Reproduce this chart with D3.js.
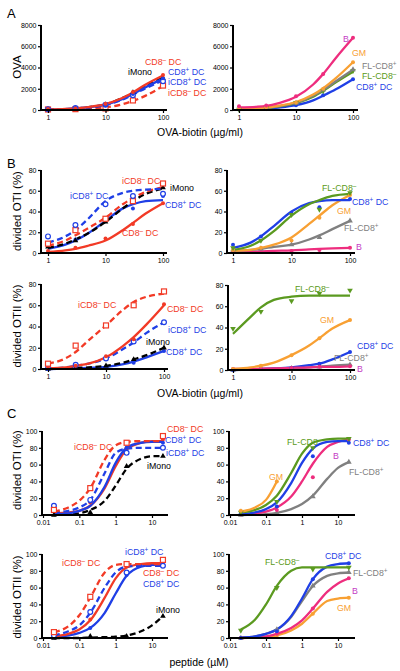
<!DOCTYPE html>
<html><head><meta charset="utf-8">
<script src="https://cdn.jsdelivr.net/npm/d3@7"></script>
<style>body{margin:0;background:#fff} svg{display:block} text{font-family:"Liberation Sans", Arial, Helvetica, sans-serif}</style>
</head><body><svg id="c" width="400" height="671"></svg>
<script>
// ---------- DATA ----------
const ovaDose = [1, 3, 10, 30, 100];
const ovaFitX = [1, 2, 3, 5, 10, 20, 30, 50, 100];
const pepDose = [0.02, 0.2, 2, 20];
const pepFitX = [0.02, 0.05, 0.1, 0.2, 0.5, 1, 2, 5, 10, 20];
const gmPepFitX = [0.02, 0.05, 0.1, 0.2];
const gmPepDose = [0.02, 0.2];

const ovaTicks = [0, 2000, 4000, 6000, 8000];
const pctTicks80 = [0, 20, 40, 60, 80];
const pctTicks100 = [0, 20, 40, 60, 80, 100];
const ovaXTicks = [1, 10, 100];
const pepXTicks = [0.01, 0.1, 1, 10];

// Panel A left (OVA)
const aL_CD8neg_fit = [50, 100, 150, 280, 550, 1150, 1650, 2400, 3250];
const aL_CD8neg_pts = [100, 150, 600, 1700, 3300];
const aL_CD8pos_fit = [40, 90, 140, 260, 500, 1050, 1500, 2150, 2950];
const aL_CD8pos_pts = [80, 200, 450, 1500, 3000];
const aL_iCD8pos_fit = [30, 80, 130, 240, 480, 1000, 1450, 2050, 2800];
const aL_iCD8pos_pts = [60, 180, 500, 1400, 2700];
const aL_iMono_fit = [20, 70, 130, 260, 540, 1150, 1600, 2250, 3050];
const aL_iMono_pts = [50, 120, 500, 1650, 3000];
const aL_iCD8neg_fit = [20, 50, 80, 130, 250, 550, 850, 1350, 2250];
const aL_iCD8neg_pts = [50, 80, 150, 900, 2300];

// Panel A right
const aR_B_fit = [250, 300, 380, 650, 1250, 2400, 3400, 4900, 6800];
const aR_B_pts = [350, 420, 1300, 3400, 6800];
const aR_GM_fit = [80, 150, 230, 400, 750, 1450, 2050, 3000, 4500];
const aR_GM_pts = [100, 250, 700, 2000, 4500];
const aR_FLpos_fit = [60, 130, 200, 360, 700, 1350, 1900, 2700, 3800];
const aR_FLpos_pts = [80, 200, 650, 1900, 3800];
const aR_FLneg_fit = [50, 110, 180, 340, 650, 1250, 1800, 2600, 3600];
const aR_FLneg_pts = [60, 180, 700, 1800, 3700];
const aR_CD8pos_fit = [30, 80, 130, 230, 450, 900, 1350, 1950, 2900];
const aR_CD8pos_pts = [40, 150, 450, 1400, 2900];

// Panel B top left (OTI, OVA-biotin)
const bTL_iCD8pos_fit = [10, 16, 22, 33, 50, 58, 60, 61, 62];
const bTL_iCD8pos_pts = [16, 27, 47, 55, 57];
const bTL_iCD8neg_fit = [7, 12, 17, 24, 34, 47, 53, 59, 63];
const bTL_iCD8neg_pts = [9, 22, 33, 50, 67];
const bTL_iMono_fit = [5, 9, 13, 19, 30, 43, 50, 57, 62];
const bTL_iMono_pts = [6, 12, 30, 50, 63];
const bTL_CD8neg_fit = [1, 2.5, 4, 7, 12, 22, 29, 38, 48];
const bTL_CD8neg_pts = [2, 5, 14, 28, 48];
const bTL_CD8pos_fit = [4, 8, 12, 19, 31, 43, 47, 50, 51];
const bTL_CD8pos_pts = [7, 13, 31, 43, 55];

// Panel B top right
const bTR_FLneg_fit = [3, 7, 12, 21, 36, 47, 51, 55, 57];
const bTR_FLneg_pts = [5, 12, 37, 42, 58];
const bTR_CD8pos_fit = [5, 10, 16, 26, 40, 48, 50, 51, 51];
const bTR_CD8pos_pts = [8, 16, 38, 44, 52];
const bTR_GM_fit = [2, 3, 5, 8, 15, 28, 36, 46, 56];
const bTR_GM_pts = [3, 5, 12, 34, 56];
const bTR_FLpos_fit = [2, 3, 4, 6, 8, 13, 17, 23, 31];
const bTR_FLpos_pts = [3, 4, 8, 15, 31];
const bTR_B_fit = [1, 1.2, 1.5, 2, 2.5, 3.5, 4, 4.5, 5];
const bTR_B_pts = [1, 1, 2, 3, 5];

// Panel B bottom left (OTII, OVA-biotin)
const bBL_iCD8neg_fit = [5, 10, 16, 27, 41, 56, 63, 68, 71];
const bBL_iCD8neg_pts = [5, 22, 41, 60, 73];
const bBL_CD8neg_fit = [0.5, 1.5, 3, 5, 11, 22, 30, 42, 60];
const bBL_CD8neg_pts = [1, 3, 12, 28, 61];
const bBL_iCD8pos_fit = [0.5, 1.5, 3, 5, 10, 19, 25, 34, 44];
const bBL_iCD8pos_pts = [1, 4, 10, 26, 44];
const bBL_iMono_fit = [0, 0.5, 1, 1.5, 3, 6, 9, 13, 20];
const bBL_iMono_pts = [0, 1, 3, 9, 20];
const bBL_CD8pos_fit = [0, 0.3, 0.5, 1, 2, 4.5, 7, 11, 17];
const bBL_CD8pos_pts = [0, 1, 2, 6, 17];

// Panel B bottom right
const bBR_FLneg_fit = [34, 50, 59, 66, 69, 70, 70, 70, 70];
const bBR_FLneg_pts = [39, 55, 65, 72, 75];
const bBR_GM_fit = [1, 2.5, 4, 7, 14, 23, 30, 39, 47];
const bBR_GM_pts = [1, 4, 14, 30, 47];
const bBR_CD8pos_fit = [0, 0.5, 1, 1.5, 2.5, 4.5, 6, 10, 17];
const bBR_CD8pos_pts = [0, 1, 2, 6, 17];
const bBR_FLpos_fit = [0, 0.3, 0.5, 1, 1.5, 2.5, 3, 4, 5];
const bBR_FLpos_pts = [0, 0.5, 1.5, 3, 5];
const bBR_B_fit = [1, 1, 1.2, 1.5, 2, 2.5, 3, 3, 3.5];
const bBR_B_pts = [1, 1, 2, 3, 3.5];

// Panel C top left (OTI, peptide)
const cTL_iMono_fit = [0, 1, 2, 6, 17, 35, 55, 67, 70, 70];
const cTL_iMono_pts = [0, 3, 58, 70];
const cTL_CD8neg_fit = [2, 3, 5, 11, 32, 58, 78, 86, 88, 88];
const cTL_CD8neg_pts = [10, 15, 80, 90];
const cTL_CD8pos_fit = [1, 2, 5, 11, 34, 62, 80, 86, 87, 87];
const cTL_CD8pos_pts = [12, 16, 80, 86];
const cTL_iCD8pos_fit = [3, 5, 9, 18, 50, 74, 79, 80, 80, 80];
const cTL_iCD8pos_pts = [11, 18, 74, 80];
const cTL_iCD8neg_fit = [4, 9, 17, 32, 66, 83, 87, 88, 88, 88];
const cTL_iCD8neg_pts = [6, 32, 86, 94];

// Panel C top right
const cTR_FLpos_fit = [0, 0.5, 1, 2.5, 7, 13, 23, 43, 56, 63];
const cTR_FLpos_pts = [0, 2, 22, 63];
const cTR_B_fit = [1, 2, 4, 9, 22, 40, 61, 81, 87, 90];
const cTR_B_pts = [1, 6, 45, 90];
const cTR_CD8pos_fit = [1, 3, 7, 15, 38, 62, 79, 87, 88, 88];
const cTR_CD8pos_pts = [2, 10, 70, 86];
const cTR_FLneg_fit = [3, 6, 12, 23, 50, 73, 86, 90, 91, 91];
const cTR_FLneg_pts = [3, 16, 80, 91];
const cTR_GM_fit = [4, 9, 18, 40];
const cTR_GM_pts = [5, 40];

// Panel C bottom left (OTII, peptide)
const cBL_iMono_fit = [0, 0, 0, 0.5, 1, 1.5, 3, 8, 15, 26];
const cBL_iMono_pts = [0, 2, 2, 26];
const cBL_CD8pos_fit = [1, 3, 6, 12, 30, 53, 74, 85, 87, 87];
const cBL_CD8pos_pts = [1, 12, 75, 87];
const cBL_CD8neg_fit = [2, 5, 10, 21, 48, 71, 84, 88, 89, 89];
const cBL_CD8neg_pts = [3, 22, 85, 90];
const cBL_iCD8pos_fit = [3, 8, 15, 30, 60, 78, 85, 86, 86, 86];
const cBL_iCD8pos_pts = [3, 31, 78, 86];
const cBL_iCD8neg_fit = [7, 14, 27, 48, 78, 87, 88, 88, 88, 88];
const cBL_iCD8neg_pts = [7, 49, 88, 93];

// Panel C bottom right
const cBR_GM_fit = [0, 0.5, 1, 3, 9, 17, 29, 44, 47, 48];
const cBR_GM_pts = [0, 3, 29, 48];
const cBR_B_fit = [0, 1, 2, 5, 12, 21, 35, 55, 65, 71];
const cBR_B_pts = [0, 5, 35, 71];
const cBR_FLpos_fit = [0.5, 2, 5, 10, 25, 44, 62, 74, 77, 78];
const cBR_FLpos_pts = [0, 10, 62, 78];
const cBR_CD8pos_fit = [0.5, 2, 5, 10, 26, 47, 70, 85, 88, 89];
const cBR_CD8pos_pts = [0, 8, 70, 89];
const cBR_FLneg_fit = [10, 22, 40, 62, 80, 84, 84, 84, 84, 84];
const cBR_FLneg_pts = [9, 60, 82, 84];

// ---------- STYLE ----------
const RED = "#f23a26", BLUE = "#1f3fe6", BLACK = "#000000", PINK = "#ee2d7e",
      ORANGE = "#f8a033", GREEN = "#5b9a20", GRAY = "#808080", MAG = "#c43cc4";

const svg = d3.select("#c");

function mk(name, color, dash, marker, fitX, fit, ptX, pts) {
  return {name, color, dash, marker, fitX, fit, ptX, pts};
}

function drawMarker(g, type, cx, cy, color) {
  if (type === "dot") {
    g.append("circle").attr("cx", cx).attr("cy", cy).attr("r", 2).attr("fill", color);
  } else if (type === "ocircle") {
    g.append("circle").attr("cx", cx).attr("cy", cy).attr("r", 2.4).attr("fill", "#fff").attr("stroke", color).attr("stroke-width", 1.2);
  } else if (type === "osquare") {
    g.append("rect").attr("x", cx - 2.5).attr("y", cy - 2.5).attr("width", 5).attr("height", 5).attr("fill", "#fff").attr("stroke", color).attr("stroke-width", 1.2);
  } else if (type === "tri") {
    g.append("path").attr("d", d3.symbol(d3.symbolTriangle, 14)()).attr("transform", `translate(${cx},${cy})`).attr("fill", color);
  } else if (type === "dtri") {
    g.append("path").attr("d", d3.symbol(d3.symbolTriangle, 14)()).attr("transform", `translate(${cx},${cy}) rotate(180)`).attr("fill", color);
  }
}

function label(g, txt, color, x, y, size) {
  size = size || 8.8;
  const t = g.append("text").attr("x", x).attr("y", y).attr("fill", color).attr("font-size", size);
  const parts = txt.split(/(\^[+-])/);
  let raised = false;
  parts.forEach(p => {
    if (!p) return;
    if (p[0] === "^") {
      t.append("tspan").attr("dy", -3).attr("font-size", size * 0.72).text(p[1] === "-" ? "\u2013" : "+");
      raised = true;
    } else {
      const s = t.append("tspan").text(p);
      if (raised) { s.attr("dy", 3); raised = false; }
    }
  });
}

function panel(cfg) {
  const g = svg.append("g");
  const x = d3.scaleLog().domain(cfg.xDom).range(cfg.xRange);
  const y = d3.scaleLinear().domain(cfg.yDom).range(cfg.yRange);
  const y0 = cfg.yRange[0];

  const line = d3.line().x(d => x(d[0])).y(d => y(d[1])).curve(d3.curveMonotoneX);
  cfg.series.forEach(s => {
    const pts = s.fitX.map((v, i) => [v, s.fit[i]]);
    g.append("path").attr("d", line(pts)).attr("fill", "none").attr("stroke", s.color)
      .attr("stroke-width", 2.3).attr("stroke-dasharray", s.dash ? "6,3.5" : null)
      .attr("stroke-linecap", "butt");
  });
  cfg.series.forEach(s => {
    s.ptX.forEach((v, i) => drawMarker(g, s.marker, x(v), y(s.pts[i]), s.color));
  });

  const xa = d3.axisBottom(x).tickValues(cfg.xTicks).tickFormat(d => String(d)).tickSize(3).tickPadding(2);
  const gx = g.append("g").attr("transform", `translate(0,${y0})`).call(xa);
  gx.select(".domain").remove();
  gx.selectAll(".tick line").attr("stroke-width", 1.2);
  gx.selectAll(".tick text").attr("font-size", 7).attr("font-family", "Liberation Sans, Arial, sans-serif");

  const ya = d3.axisLeft(y).tickValues(cfg.yTicks).tickFormat(d3.format("d")).tickSize(3).tickPadding(1.5);
  const gy = g.append("g").attr("transform", `translate(${cfg.axisX0},0)`).call(ya);
  gy.select(".domain").remove();
  gy.selectAll(".tick line").attr("stroke-width", 1.2);
  gy.selectAll(".tick text").attr("font-size", 7).attr("font-family", "Liberation Sans, Arial, sans-serif");

  g.append("line").attr("x1", cfg.axisX0 - 1).attr("x2", cfg.axisX1).attr("y1", y0).attr("y2", y0)
    .attr("stroke", "#000").attr("stroke-width", 2);
  g.append("line").attr("x1", cfg.axisX0).attr("x2", cfg.axisX0).attr("y1", y0 + 1).attr("y2", cfg.yRange[1])
    .attr("stroke", "#000").attr("stroke-width", 2);

  cfg.labels.forEach(l => label(g, l[0], l[1], l[2], l[3] + 3));
}

const L = (t, c, x, y) => [t, c, x, y];

// ---------- PANELS ----------
panel({
  xDom: [1, 100], xRange: [48, 163], axisX0: 41, axisX1: 167, xTicks: ovaXTicks,
  yDom: [0, 8000], yRange: [110, 25], yTicks: ovaTicks,
  series: [
    mk("iCD8- DC", RED, true, "osquare", ovaFitX, aL_iCD8neg_fit, ovaDose, aL_iCD8neg_pts),
    mk("iMono", BLACK, true, "tri", ovaFitX, aL_iMono_fit, ovaDose, aL_iMono_pts),
    mk("iCD8+ DC", BLUE, true, "ocircle", ovaFitX, aL_iCD8pos_fit, ovaDose, aL_iCD8pos_pts),
    mk("CD8+ DC", BLUE, false, "dot", ovaFitX, aL_CD8pos_fit, ovaDose, aL_CD8pos_pts),
    mk("CD8- DC", RED, false, "dot", ovaFitX, aL_CD8neg_fit, ovaDose, aL_CD8neg_pts)
  ],
  labels: [L("CD8^- DC", RED, 145, 62), L("iMono", BLACK, 128, 72), L("CD8^+ DC", BLUE, 168, 72),
           L("iCD8^+ DC", BLUE, 168, 82), L("iCD8^- DC", RED, 168, 93)]
});
panel({
  xDom: [1, 100], xRange: [239, 353], axisX0: 233, axisX1: 358, xTicks: ovaXTicks,
  yDom: [0, 8000], yRange: [110, 25], yTicks: ovaTicks,
  series: [
    mk("CD8+ DC", BLUE, false, "dot", ovaFitX, aR_CD8pos_fit, ovaDose, aR_CD8pos_pts),
    mk("FL-CD8-", GREEN, false, "dtri", ovaFitX, aR_FLneg_fit, ovaDose, aR_FLneg_pts),
    mk("FL-CD8+", GRAY, false, "tri", ovaFitX, aR_FLpos_fit, ovaDose, aR_FLpos_pts),
    mk("GM", ORANGE, false, "dot", ovaFitX, aR_GM_fit, ovaDose, aR_GM_pts),
    mk("B", PINK, false, "dot", ovaFitX, aR_B_fit, ovaDose, aR_B_pts)
  ],
  labels: [L("B", MAG, 343, 39), L("GM", ORANGE, 352, 53), L("FL-CD8^+", GRAY, 362, 66),
           L("FL-CD8^-", GREEN, 362, 76), L("CD8^+ DC", BLUE, 356, 87)]
});
panel({
  xDom: [1, 100], xRange: [48, 163], axisX0: 41, axisX1: 167, xTicks: ovaXTicks,
  yDom: [0, 80], yRange: [253, 170], yTicks: pctTicks80,
  series: [
    mk("CD8- DC", RED, false, "dot", ovaFitX, bTL_CD8neg_fit, ovaDose, bTL_CD8neg_pts),
    mk("CD8+ DC", BLUE, false, "dot", ovaFitX, bTL_CD8pos_fit, ovaDose, bTL_CD8pos_pts),
    mk("iMono", BLACK, true, "tri", ovaFitX, bTL_iMono_fit, ovaDose, bTL_iMono_pts),
    mk("iCD8- DC", RED, true, "osquare", ovaFitX, bTL_iCD8neg_fit, ovaDose, bTL_iCD8neg_pts),
    mk("iCD8+ DC", BLUE, true, "ocircle", ovaFitX, bTL_iCD8pos_fit, ovaDose, bTL_iCD8pos_pts)
  ],
  labels: [L("iCD8^- DC", RED, 122, 181), L("iMono", BLACK, 170, 188), L("iCD8^+ DC", BLUE, 70, 196),
           L("CD8^+ DC", BLUE, 165, 205), L("CD8^- DC", RED, 122, 233)]
});
panel({
  xDom: [1, 100], xRange: [233, 350], axisX0: 227, axisX1: 355, xTicks: ovaXTicks,
  yDom: [0, 80], yRange: [253, 170], yTicks: pctTicks80,
  series: [
    mk("B", PINK, false, "dot", ovaFitX, bTR_B_fit, ovaDose, bTR_B_pts),
    mk("FL-CD8+", GRAY, false, "tri", ovaFitX, bTR_FLpos_fit, ovaDose, bTR_FLpos_pts),
    mk("GM", ORANGE, false, "dot", ovaFitX, bTR_GM_fit, ovaDose, bTR_GM_pts),
    mk("CD8+ DC", BLUE, false, "dot", ovaFitX, bTR_CD8pos_fit, ovaDose, bTR_CD8pos_pts),
    mk("FL-CD8-", GREEN, false, "dtri", ovaFitX, bTR_FLneg_fit, ovaDose, bTR_FLneg_pts)
  ],
  labels: [L("FL-CD8^-", GREEN, 322, 188), L("CD8^+ DC", BLUE, 352, 202), L("GM", ORANGE, 337, 211),
           L("FL-CD8^+", GRAY, 344, 228), L("B", MAG, 356, 247)]
});
panel({
  xDom: [1, 100], xRange: [48, 164], axisX0: 41, axisX1: 168, xTicks: ovaXTicks,
  yDom: [0, 80], yRange: [369, 284], yTicks: pctTicks80,
  series: [
    mk("CD8+ DC", BLUE, false, "dot", ovaFitX, bBL_CD8pos_fit, ovaDose, bBL_CD8pos_pts),
    mk("iMono", BLACK, true, "tri", ovaFitX, bBL_iMono_fit, ovaDose, bBL_iMono_pts),
    mk("iCD8+ DC", BLUE, true, "ocircle", ovaFitX, bBL_iCD8pos_fit, ovaDose, bBL_iCD8pos_pts),
    mk("CD8- DC", RED, false, "dot", ovaFitX, bBL_CD8neg_fit, ovaDose, bBL_CD8neg_pts),
    mk("iCD8- DC", RED, true, "osquare", ovaFitX, bBL_iCD8neg_fit, ovaDose, bBL_iCD8neg_pts)
  ],
  labels: [L("iCD8^- DC", RED, 78, 305), L("CD8^- DC", RED, 167, 309), L("iCD8^+ DC", BLUE, 168, 330),
           L("iMono", BLACK, 146, 342), L("CD8^+ DC", BLUE, 166, 352)]
});
panel({
  xDom: [1, 100], xRange: [233, 350], axisX0: 228, axisX1: 355, xTicks: ovaXTicks,
  yDom: [0, 80], yRange: [370, 285], yTicks: pctTicks80,
  series: [
    mk("FL-CD8+", GRAY, false, "tri", ovaFitX, bBR_FLpos_fit, ovaDose, bBR_FLpos_pts),
    mk("CD8+ DC", BLUE, false, "dot", ovaFitX, bBR_CD8pos_fit, ovaDose, bBR_CD8pos_pts),
    mk("B", PINK, false, "dot", ovaFitX, bBR_B_fit, ovaDose, bBR_B_pts),
    mk("GM", ORANGE, false, "dot", ovaFitX, bBR_GM_fit, ovaDose, bBR_GM_pts),
    mk("FL-CD8-", GREEN, false, "dtri", ovaFitX, bBR_FLneg_fit, ovaDose, bBR_FLneg_pts)
  ],
  labels: [L("FL-CD8^-", GREEN, 295, 289), L("GM", ORANGE, 320, 320), L("CD8^+ DC", BLUE, 357, 346),
           L("FL-CD8^+", GRAY, 334, 358), L("B", MAG, 357, 369)]
});
panel({
  xDom: [0.01, 10], xRange: [43, 152], axisX0: 42, axisX1: 168, xTicks: pepXTicks,
  yDom: [0, 100], yRange: [515, 431], yTicks: pctTicks100,
  series: [
    mk("iMono", BLACK, true, "tri", pepFitX, cTL_iMono_fit, pepDose, cTL_iMono_pts),
    mk("CD8- DC", RED, false, "dot", pepFitX, cTL_CD8neg_fit, pepDose, cTL_CD8neg_pts),
    mk("CD8+ DC", BLUE, false, "dot", pepFitX, cTL_CD8pos_fit, pepDose, cTL_CD8pos_pts),
    mk("iCD8+ DC", BLUE, true, "ocircle", pepFitX, cTL_iCD8pos_fit, pepDose, cTL_iCD8pos_pts),
    mk("iCD8- DC", RED, true, "osquare", pepFitX, cTL_iCD8neg_fit, pepDose, cTL_iCD8neg_pts)
  ],
  labels: [L("CD8^- DC", RED, 167, 429), L("iCD8^- DC", RED, 74, 447), L("CD8^+ DC", BLUE, 165, 440),
           L("iCD8^+ DC", BLUE, 166, 453), L("iMono", BLACK, 147, 466)]
});
panel({
  xDom: [0.01, 10], xRange: [230, 338], axisX0: 229, axisX1: 355, xTicks: pepXTicks,
  yDom: [0, 100], yRange: [515, 431], yTicks: pctTicks100,
  series: [
    mk("FL-CD8+", GRAY, false, "tri", pepFitX, cTR_FLpos_fit, pepDose, cTR_FLpos_pts),
    mk("B", PINK, false, "dot", pepFitX, cTR_B_fit, pepDose, cTR_B_pts),
    mk("CD8+ DC", BLUE, false, "dot", pepFitX, cTR_CD8pos_fit, pepDose, cTR_CD8pos_pts),
    mk("FL-CD8-", GREEN, false, "dtri", pepFitX, cTR_FLneg_fit, pepDose, cTR_FLneg_pts),
    mk("GM", ORANGE, false, "dot", gmPepFitX, cTR_GM_fit, gmPepDose, cTR_GM_pts)
  ],
  labels: [L("FL-CD8^-", GREEN, 287, 442), L("CD8^+ DC", BLUE, 353, 443), L("B", MAG, 333, 456),
           L("GM", ORANGE, 269, 477), L("FL-CD8^+", GRAY, 349, 472)]
});
panel({
  xDom: [0.01, 10], xRange: [43, 152], axisX0: 42, axisX1: 168, xTicks: pepXTicks,
  yDom: [0, 100], yRange: [638, 554], yTicks: pctTicks100,
  series: [
    mk("iMono", BLACK, true, "tri", pepFitX, cBL_iMono_fit, pepDose, cBL_iMono_pts),
    mk("CD8+ DC", BLUE, false, "dot", pepFitX, cBL_CD8pos_fit, pepDose, cBL_CD8pos_pts),
    mk("CD8- DC", RED, false, "dot", pepFitX, cBL_CD8neg_fit, pepDose, cBL_CD8neg_pts),
    mk("iCD8+ DC", BLUE, true, "ocircle", pepFitX, cBL_iCD8pos_fit, pepDose, cBL_iCD8pos_pts),
    mk("iCD8- DC", RED, true, "osquare", pepFitX, cBL_iCD8neg_fit, pepDose, cBL_iCD8neg_pts)
  ],
  labels: [L("iCD8^+ DC", BLUE, 125, 552), L("iCD8^- DC", RED, 62, 563), L("CD8^- DC", RED, 143, 573),
           L("CD8^+ DC", BLUE, 143, 584), L("iMono", BLACK, 156, 610)]
});
panel({
  xDom: [0.01, 10], xRange: [230, 338], axisX0: 229, axisX1: 355, xTicks: pepXTicks,
  yDom: [0, 100], yRange: [638, 554], yTicks: pctTicks100,
  series: [
    mk("GM", ORANGE, false, "dot", pepFitX, cBR_GM_fit, pepDose, cBR_GM_pts),
    mk("B", PINK, false, "dot", pepFitX, cBR_B_fit, pepDose, cBR_B_pts),
    mk("FL-CD8+", GRAY, false, "tri", pepFitX, cBR_FLpos_fit, pepDose, cBR_FLpos_pts),
    mk("CD8+ DC", BLUE, false, "dot", pepFitX, cBR_CD8pos_fit, pepDose, cBR_CD8pos_pts),
    mk("FL-CD8-", GREEN, false, "dtri", pepFitX, cBR_FLneg_fit, pepDose, cBR_FLneg_pts)
  ],
  labels: [L("FL-CD8^-", GREEN, 265, 562), L("CD8^+ DC", BLUE, 325, 556), L("FL-CD8^+", GRAY, 353, 573),
           L("B", MAG, 352, 591), L("GM", ORANGE, 337, 608)]
});

// ---------- TITLES ----------
const T = (txt, x, y, size, rot, anchor) => {
  const t = svg.append("text").attr("font-size", size).attr("fill", "#000")
    .attr("text-anchor", anchor || "middle").text(txt);
  if (rot) t.attr("transform", `translate(${x},${y}) rotate(-90)`);
  else t.attr("x", x).attr("y", y);
  return t;
};
T("A", 7, 18, 13, false, "start");
T("B", 7, 168, 13, false, "start");
T("C", 7, 418, 13, false, "start");
T("OVA", 21, 67, 11.5, true);
T("divided OTI (%)", 21, 211, 11.5, true);
T("divided OTII (%)", 21, 326, 11.5, true);
T("divided OTI (%)", 21, 470, 11.5, true);
T("divided OTII (%)", 21, 597, 11.5, true);
T("OVA-biotin (\u00b5g/ml)", 200, 136, 10.5);
T("OVA-biotin (\u00b5g/ml)", 200, 397, 10.5);
T("peptide (\u00b5M)", 199, 666, 10.5);
</script></body></html>
